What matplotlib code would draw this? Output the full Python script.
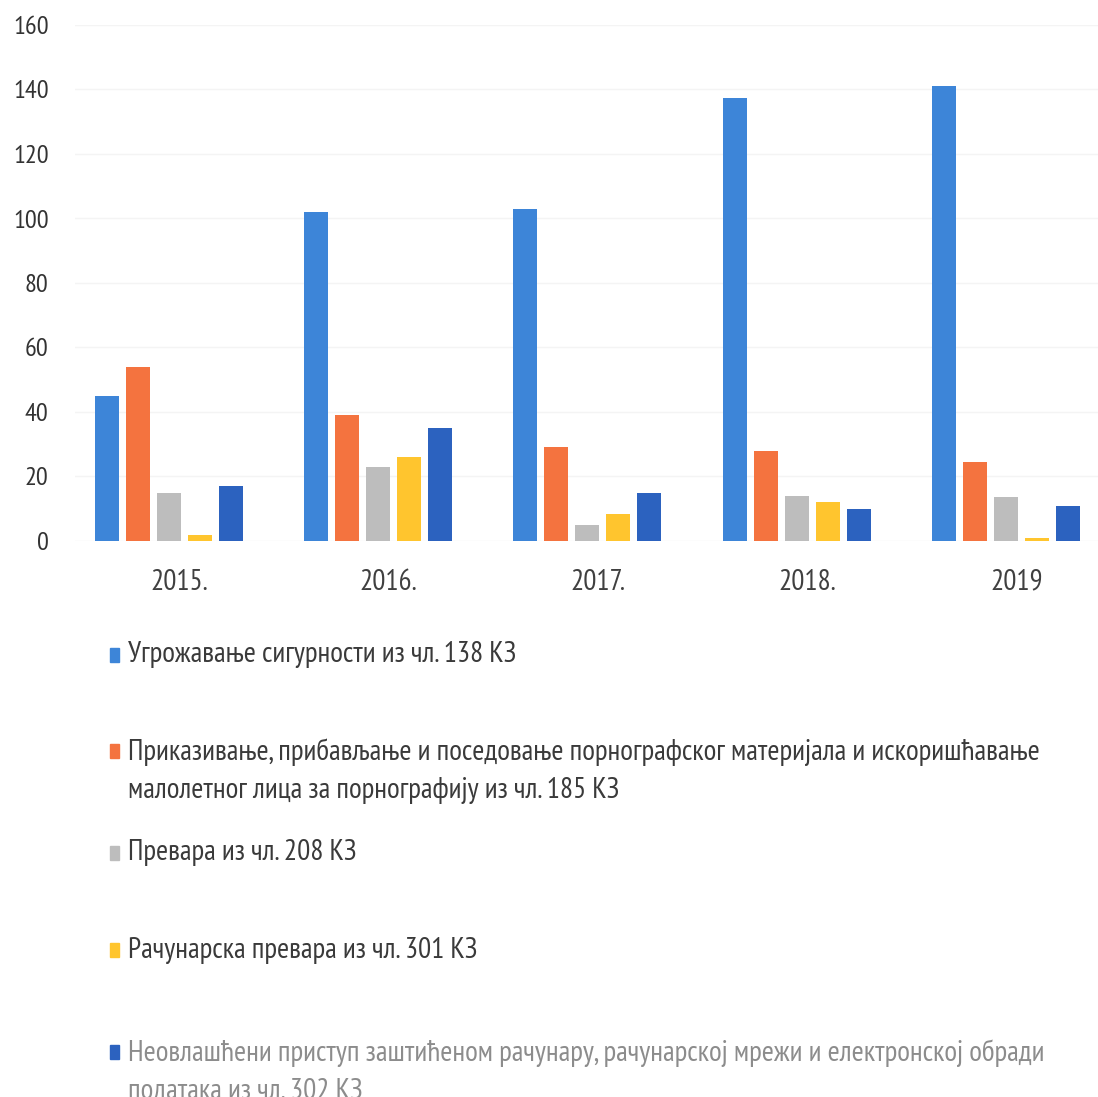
import matplotlib
matplotlib.use("Agg")
import matplotlib.pyplot as plt
from matplotlib.patches import Rectangle
import numpy as np

# podaci (procitano sa slike)
years = ['2015.', '2016.', '2017.', '2018.', '2019']
series_names = [
    'Угрожавање сигурности из чл. 138 КЗ',
    'Приказивање, прибављање и поседовање порнографског материјала и искоришћавање\nмалолетног лица за порнографију из чл. 185 КЗ',
    'Превара из чл. 208 КЗ',
    'Рачунарска превара из чл. 301 КЗ',
    'Неовлашћени приступ заштићеном рачунару, рачунарској мрежи и електронској обради\nподатака из чл. 302 КЗ',
]
ugrozavanje = [45, 102, 103, 137.5, 141]
pornografija = [54, 39, 29, 28, 24.5]
prevara = [15, 23, 5, 14, 13.5]
racunarska = [2, 26, 8.5, 12, 1]
pristup = [17, 35, 15, 10, 11]

colors = ['#3d85d8', '#f4733f', '#bdbdbd', '#ffc52e', '#2c62bf']

plt.rcParams['font.family'] = ['PT Sans Narrow', 'DejaVu Sans']

W, H = 1098, 1097
fig = plt.figure(figsize=(W / 100, H / 100), dpi=100)

# oblast grafika u pikselima
left_px, right_px, top_px, bottom_px = 75, 1098, 25, 541
ax = fig.add_axes([left_px / W, 1 - bottom_px / H,
                   (right_px - left_px) / W, (bottom_px - top_px) / H])

x = np.arange(len(years))
step = 31 / 209.2
width = 24 / 209.2
all_series = [ugrozavanje, pornografija, prevara, racunarska, pristup]
for k, vals in enumerate(all_series):
    ax.bar(x + (k - 2) * step, vals, width=width, color=colors[k], zorder=2)

ax.set_ylim(0, 160)
ax.set_yticks(range(0, 161, 20))
ax.set_xlim((left_px - 169) / 209.2, (right_px - 169) / 209.2)
ax.set_xticks(x + 0.05)
ax.set_xticklabels(years)
ax.tick_params(axis='y', length=0, pad=19, labelsize=19, labelcolor='#333333')
ax.tick_params(axis='x', length=0, pad=20, labelsize=21, labelcolor='#404040')
ax.grid(axis='y', color='#f4f4f4', linewidth=1, zorder=0)
for s in ax.spines.values():
    s.set_visible(False)

# legenda ispod grafika
legend_y = [655, 771, 853, 950, 1072]
text_colors = ['#3a3a3a', '#3a3a3a', '#3a3a3a', '#3a3a3a', '#8c8c8c']
for k, name in enumerate(series_names):
    yc = 1 - legend_y[k] / H
    first_line_y = legend_y[k] - (20 if '\n' in name else 0)
    mk = 1 - first_line_y / H
    fig.patches.append(Rectangle((110 / W, mk - 7 / H), 9 / W, 14 / H,
                                 transform=fig.transFigure, color=colors[k]))
    fig.text(128 / W, yc, name, fontsize=21, color=text_colors[k],
             ha='left', va='center', linespacing=1.5)

fig.savefig('out.png', dpi=100)
